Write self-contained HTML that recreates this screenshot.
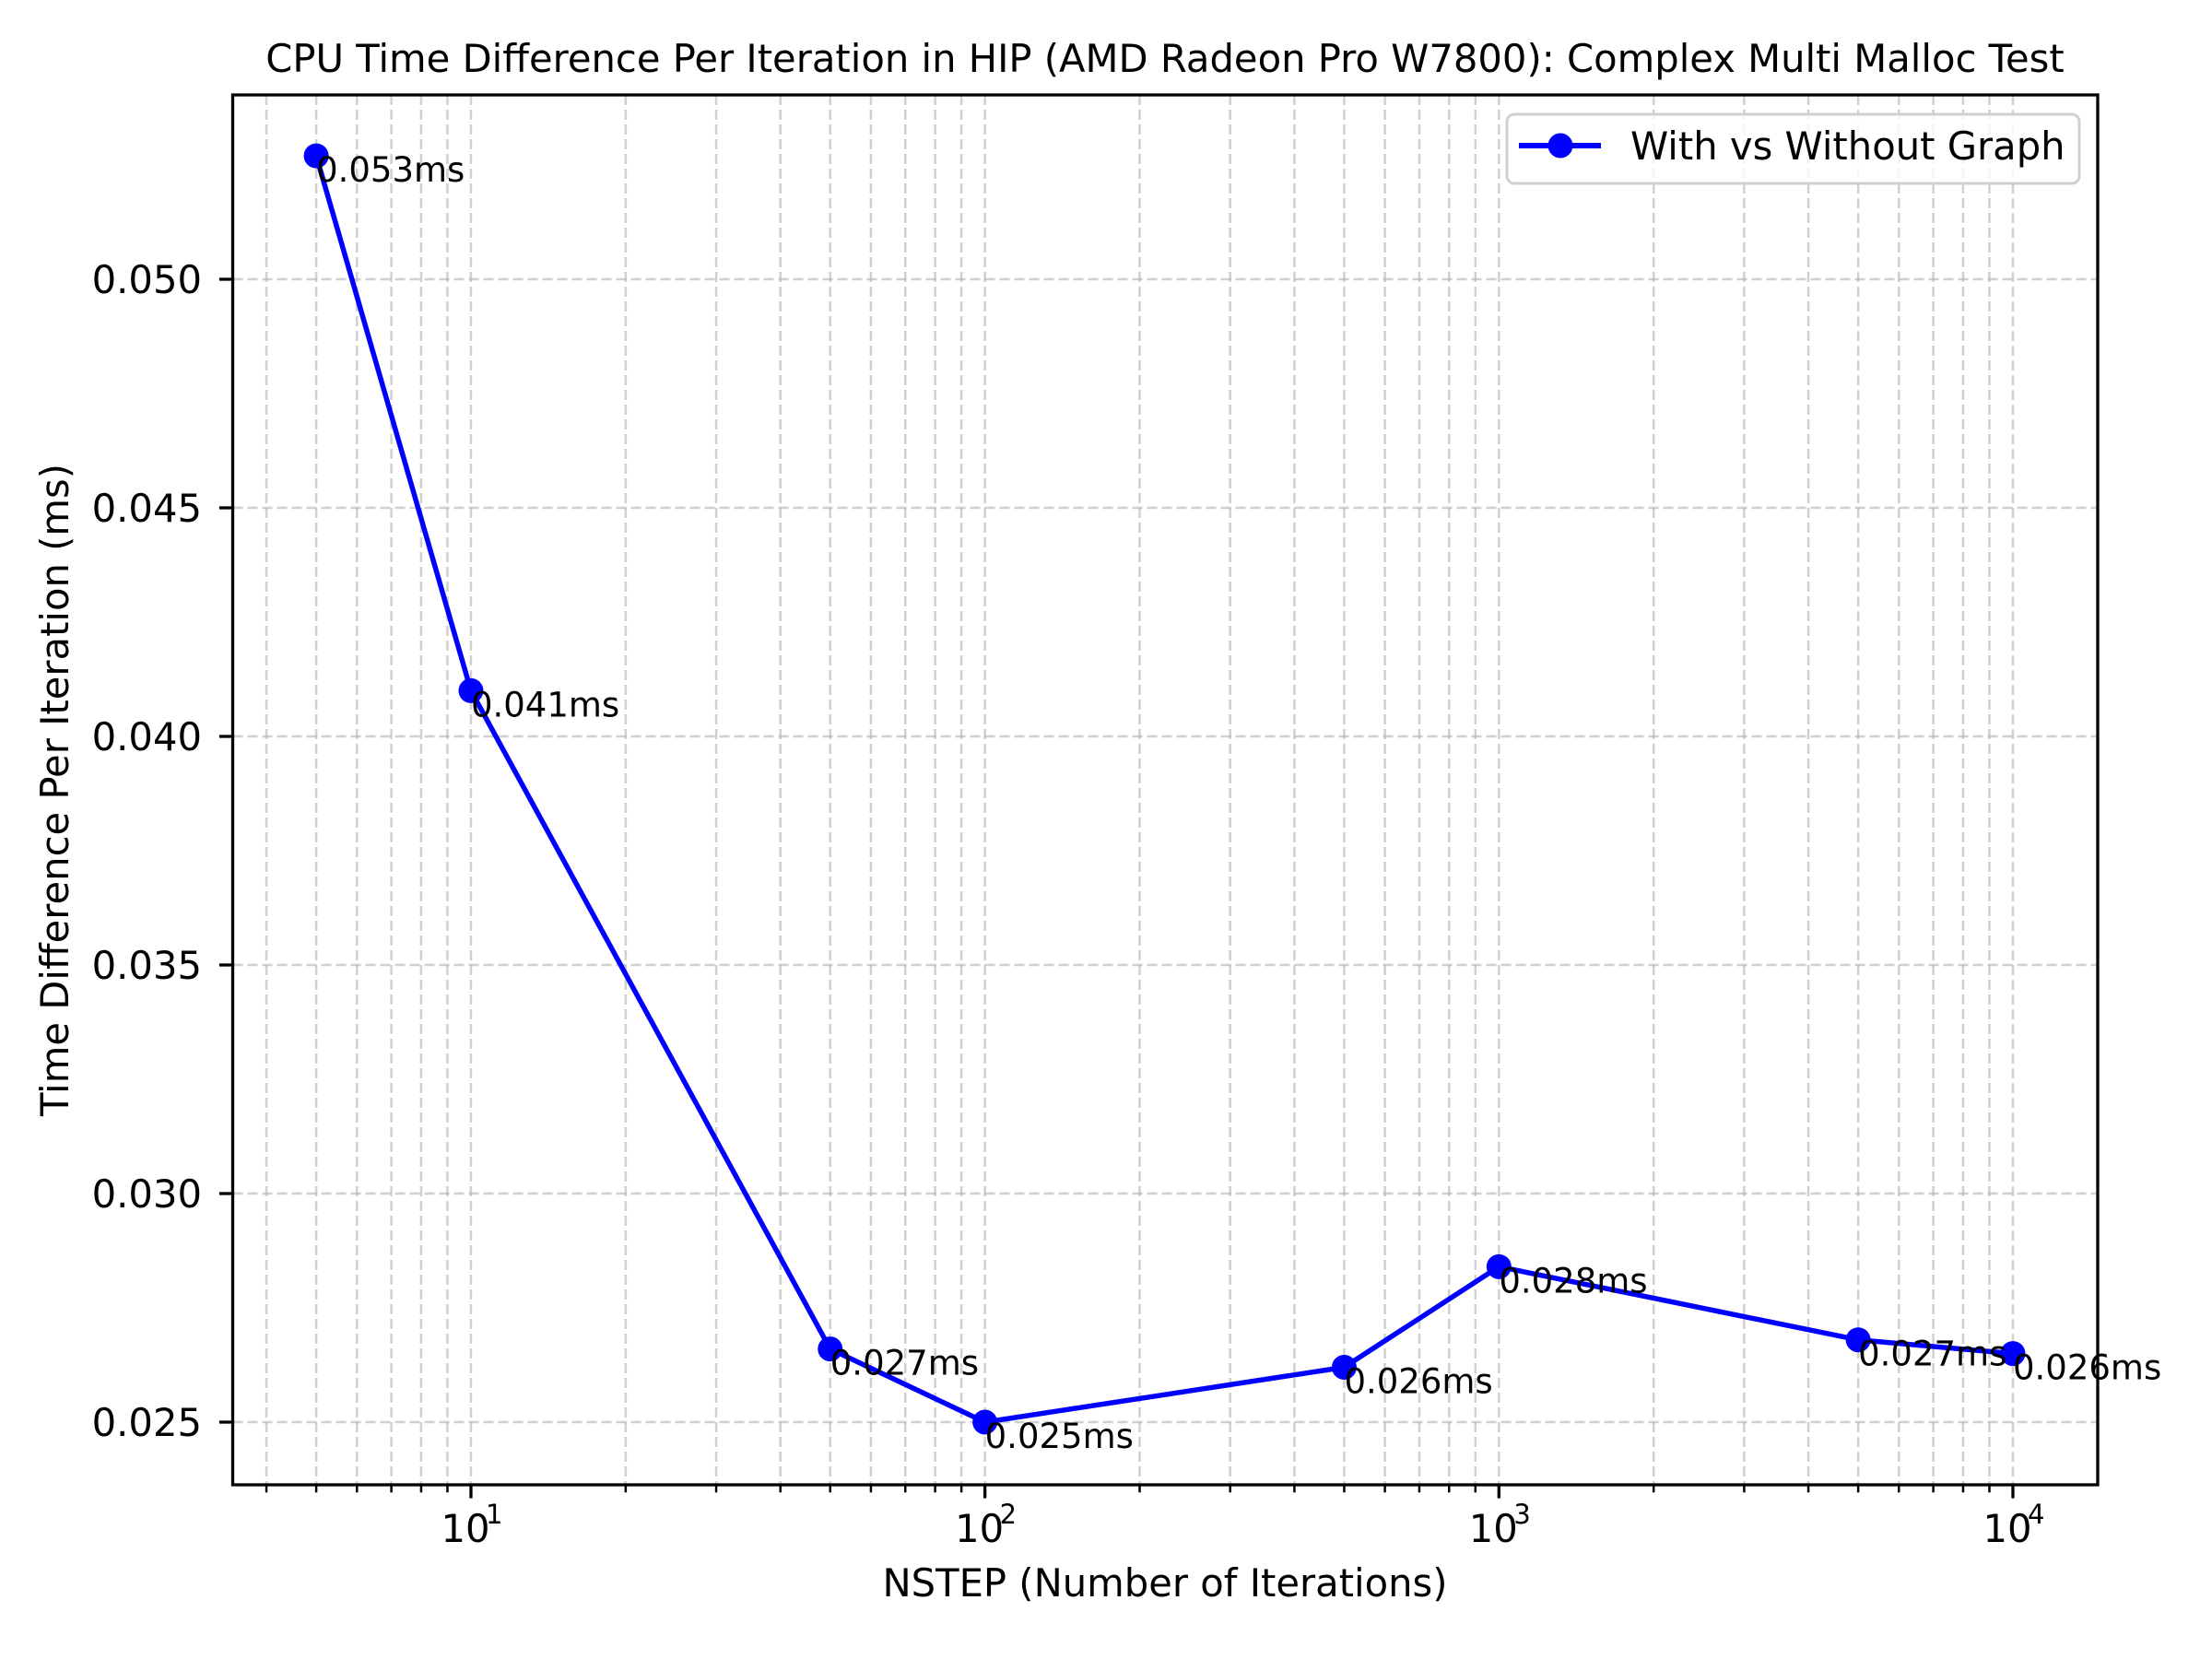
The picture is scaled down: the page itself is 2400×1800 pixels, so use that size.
<!DOCTYPE html>
<html><head><meta charset="utf-8"><style>
html,body{margin:0;padding:0;background:#fff;}
svg{display:block;font-family:"DejaVu Sans","Liberation Sans",sans-serif;}
</style></head><body>
<svg id="chart" width="2400" height="1800" viewBox="0 0 2400 1800" xmlns="http://www.w3.org/2000/svg">
<rect x="0" y="0" width="2400" height="1800" fill="#fff"/>
<g id="grid"></g>
<g id="series"></g>
<g id="axes"></g>
<text x="1264" y="78" font-size="41.7" text-anchor="middle">CPU Time Difference Per Iteration in HIP (AMD Radeon Pro W7800): Complex Multi Malloc Test</text>
<text x="1264" y="1732" font-size="41.7" text-anchor="middle">NSTEP (Number of Iterations)</text>
<text transform="translate(74,857) rotate(-90)" font-size="41.7" text-anchor="middle">Time Difference Per Iteration (ms)</text>
<g>
<rect x="1635" y="124" width="621" height="75" rx="8" fill="#fff" fill-opacity="0.8" stroke="#d0d0d0" stroke-width="3"/>
<line x1="1648" y1="158" x2="1737" y2="158" stroke="#0000ff" stroke-width="6"/>
<circle cx="1693" cy="158" r="13.5" fill="#0000ff"/>
<text x="1769" y="173" font-size="41.7">With vs Without Graph</text>
</g>
</svg>
<script>
const nsteps = [5, 10, 50, 100, 500, 1000, 5000, 10000];
const diffs = [0.0527, 0.0410, 0.0266, 0.0250, 0.0262, 0.0284, 0.0268, 0.0265];
const pointLabels = ["0.053ms","0.041ms","0.027ms","0.025ms","0.026ms","0.028ms","0.027ms","0.026ms"];
const yTicks = [0.025, 0.030, 0.035, 0.040, 0.045, 0.050];
const yTickLabels = ["0.025","0.030","0.035","0.040","0.045","0.050"];
const xMajorExps = [1, 2, 3, 4];

const L=252.5,R=2276,T=103,B=1611;
const xMinL=0.5365,xMaxL=4.165,yMin=0.023629,yMax=0.054032;
function X(v){return L+(Math.log10(v)-xMinL)/(xMaxL-xMinL)*(R-L);}
function Y(v){return B-(v-yMin)/(yMax-yMin)*(B-T);}
const NS="http://www.w3.org/2000/svg";
function mk(tag,attrs,parent){const e=document.createElementNS(NS,tag);for(const k in attrs)e.setAttribute(k,attrs[k]);parent.appendChild(e);return e;}
const grid=document.getElementById('grid'),axes=document.getElementById('axes'),series=document.getElementById('series');

for(let d=0;d<=4;d++){
  for(let m=1;m<=9;m++){
    const v=m*Math.pow(10,d);
    const lg=Math.log10(v);
    if(lg<xMinL||lg>xMaxL)continue;
    const x=X(v);
    const gl=mk('line',{x1:x,x2:x,y1:T,y2:B,stroke:'#b0b0b0','stroke-opacity':'0.6','stroke-width':'2.5','stroke-dasharray':'11,5'},grid);
    
    
    const major=(m===1);
    const tk=mk('line',{x1:x,x2:x,y1:B,y2:B+(major?14.6:8.3),stroke:'#000','stroke-width':major?'3.3':'2.5'},axes);
    
    
  }
}
xMajorExps.forEach(e=>{
  const x=X(Math.pow(10,e));
  const t=mk('text',{x:x-6,y:1673,'font-size':'41.7','text-anchor':'middle'},axes);
  
  
  t.textContent='10';
  const s=mk('text',{x:x+16,y:1653,'font-size':'29','text-anchor':'start'},axes);
  
  
  s.textContent=String(e);
});
yTicks.forEach((v,i)=>{
  const y=Y(v);
  const gl=mk('line',{x1:L,x2:R,y1:y,y2:y,stroke:'#b0b0b0','stroke-opacity':'0.6','stroke-width':'2.5','stroke-dasharray':'11,5'},grid);
  
  
  const tk=mk('line',{x1:L-14.6,x2:L,y1:y,y2:y,stroke:'#000','stroke-width':'3.3'},axes);
  
  
  const t=mk('text',{x:219,y:y+15,'font-size':'41.7','text-anchor':'end'},axes);
  
  
  t.textContent=yTickLabels[i];
});
const sp=mk('rect',{x:L,y:T,width:R-L,height:B-T,fill:'none',stroke:'#000','stroke-width':'3.3'},axes);


const pts=nsteps.map((n,i)=>X(n)+','+Y(diffs[i])).join(' ');
const pl=mk('polyline',{points:pts,fill:'none',stroke:'#0000ff','stroke-width':'5.5','stroke-linejoin':'round'},series);


nsteps.forEach((n,i)=>{
  const c=mk('circle',{cx:X(n),cy:Y(diffs[i]),r:'13.5',fill:'#0000ff'},series);
  
  
});
nsteps.forEach((n,i)=>{
  const t=mk('text',{x:X(n),y:Y(diffs[i])+28,'font-size':'37'},series);
  
  
  t.textContent=pointLabels[i];
});
</script>
</body></html>
